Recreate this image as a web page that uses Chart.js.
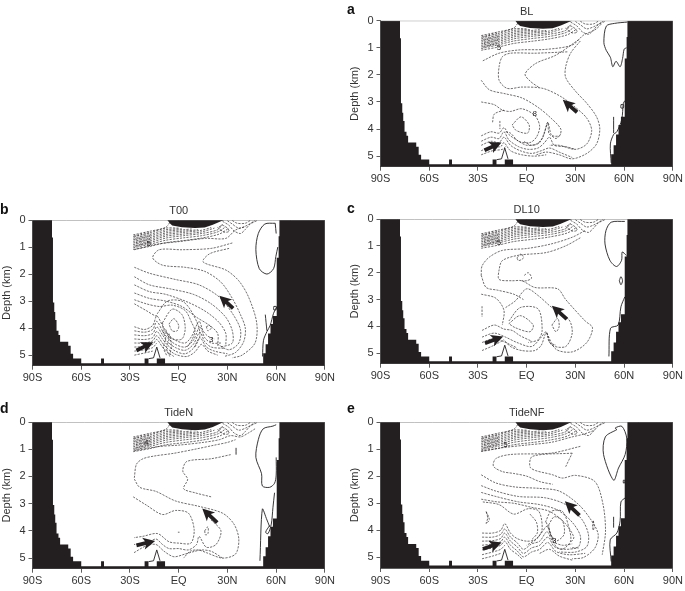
<!DOCTYPE html>
<html>
<head>
<meta charset="utf-8" />
<title>Overturning streamfunction</title>
<script src="https://cdn.jsdelivr.net/npm/chart.js@4"></script>
<style>
    html, body { margin: 0; padding: 0; background: #fff; }
    body { width: 685px; height: 591px; position: relative; overflow: hidden; }
    canvas { position: absolute; }
    .letter { position: absolute; font: bold 14px "Liberation Sans", sans-serif; color: #111; }
</style>
</head>
<body>
<script>
// axis labels
var latTicks = [-90, -60, -30, 0, 30, 60, 90];
var latLabels = ['90S', '60S', '30S', 'EQ', '30N', '60N', '90N'];
var depthTicks = [0, 1, 2, 3, 4, 5];
var panelTitles = ['BL', 'T00', 'DL10', 'TideN', 'TideNF'];
var panelLetters = ['a', 'b', 'c', 'd', 'e'];

// ocean floor outline, lat / depth (km)
var floorOutline = [[-90,0],[-78,0],[-78,0.65],[-77.4,0.65],[-77.4,3.05],[-76.6,3.05],[-76.6,3.4],[-76,3.4],[-76,3.7],[-75.2,3.7],[-75.2,4.1],[-74,4.1],[-74,4.25],[-73,4.25],[-73,4.5],[-68,4.5],[-68,4.65],[-66.5,4.65],[-66.5,4.95],[-65,4.95],[-65,5.12],[-60,5.12],[-60,5.3],
    [-47.8,5.3],[-47.8,5.12],[-46,5.12],[-46,5.3],[-21,5.3],[-21,5.12],[-18.6,5.12],[-18.6,5.3],[-13.5,5.3],[-13.5,5.12],[-8.4,5.12],[-8.4,5.3],
    [52,5.3],[52,4.93],[53.5,4.93],[53.5,4.6],[55,4.6],[55,4.2],[56.5,4.2],[56.5,3.85],[58,3.85],[58,3.55],[60,3.55],[60,3.4],[60.5,3.4],[60.5,1.4],[61.5,1.4],[61.5,0.6],[62,0.6],[62,0],[90,0],[90,5.39],[-90,5.39]];
var ridgeLine = [[-18.5,5.13],[-15.5,5.1],[-13.5,4.7],[-11.5,5.1]];
var surfaceBlob = [[-7,0],[-5.5,0.12],[-4,0.2],[2,0.27],[10,0.3],[16,0.28],[21,0.18],[26,0.05],[28,0]];

// dense upper ocean contours, about the same in all panels
var upperOcean = [
    [[-28,0.55],[-18,0.42],[-8,0.27],[-5,0.05]],
    [[-28,0.61],[-18,0.48],[-8,0.3],[0,0.3]],
    [[-28,0.67],[-18,0.54],[-8,0.36],[2,0.33]],
    [[-28,0.73],[-18,0.6],[-8,0.42],[3,0.36],[8,0.33]],
    [[-28,0.79],[-18,0.66],[-8,0.48],[3,0.41],[12,0.36]],
    [[-28,0.85],[-18,0.72],[-8,0.54],[3,0.46],[14,0.38],[20,0.28]],
    [[-28,0.91],[-18,0.78],[-8,0.6],[3,0.52],[14,0.44],[22,0.3]],
    [[-28,0.97],[-18,0.84],[-8,0.67],[3,0.58],[14,0.5],[24,0.36],[27,0.15]],
    [[-28,1.03],[-18,0.9],[-8,0.75],[3,0.66],[14,0.58],[24,0.44],[29,0.25]],
    [[-28,1.09],[-18,0.98],[-8,0.84],[3,0.76],[14,0.67],[25,0.52],[31,0.3]],
    [[27,0.05],[31,0.2],[34,0.4],[38,0.5],[41,0.35],[44,0.15],[48,0.03]],
    [[30,0.03],[33,0.15],[37,0.3],[42,0.2],[47,0.02]],
    [[33,0.02],[36,0.12],[41,0.12],[44,0.02]],
    [[24,0.28],[28,0.45],[31,0.42],[30,0.3],[27,0.2],[24,0.28]],
    [[-27,0.55],[-26,0.8],[-26.5,1.05]],
    [[-25,0.52],[-24,0.75],[-24.5,1.02]],
    [[-23,0.49],[-22,0.7],[-22.5,0.98]],
    [[-21,0.46],[-20,0.65],[-20.5,0.95]],
    [[-19,0.43],[-18,0.6],[-18.5,0.92]]
];

var contoursBL = [
    [[-27,1.48],[-17,1.2],[-4.7,1.08],[11.6,1.06],[28,0.9],[35,0.53],[42,0.34],[46,0.12]],
    [[33,0.75],[27,1.2],[24,1.7],[24,2.1],[30,2.6],[37,3.05],[43,3.55],[45,4.0],[43,4.55],[37,4.9],[28,5.1],[20,4.95],[12,4.85],[6,4.95]],
    [[25,1.15],[5,1.2],[-10,1.2],[-15,1.33],[-17,1.7],[-17,2.2],[-12,2.5],[-3,2.45],[10,2.5],[21,2.8],[30,3.2],[37,3.6],[40,4.05],[37,4.55],[30,4.75],[20,4.6],[14,4.6]],
    [[32,0.7],[18,1.27],[5.5,1.58],[-1,1.97],[2.5,2.25],[8,2.48]],
    [[-28,2.2],[-23,2.55],[-13,2.7],[-3,2.85],[7,3.2],[15,3.6],[21,4.0],[20,4.25],[14,4.2],[13,3.75],[11,4.1],[8,4.5],[3,4.6],[-2,4.45]],
    [[-28,3.0],[-20,3.1],[-15,3.3],[-10,3.35],[-3,3.25],[5,3.5],[8,3.9],[6,4.3],[2,4.5],[-5,4.45],[-10,4.15],[-13,4.1]],
    [[-9,3.85],[-3.5,3.55],[1.5,3.85],[0.5,4.15],[-6.5,4.05],[-9,3.85]],
    [[-21,3.75],[-20,3.45],[-14,3.3]],
    [[-16.5,3.7],[-16.5,4.0]],
    [[-28,4.25],[-22,4.1],[-17,4.15],[-14,3.95],[-11,4.2],[-5,4.45],[0,4.6],[6,4.55],[10,4.3],[13,3.75],[15,4.2],[18,4.35],[21,4.2]],
    [[-28,4.45],[-22,4.3],[-17,4.35],[-14,4.1],[-11,4.4],[-5,4.65],[1,4.75],[7,4.7],[11,4.5],[14,4.3],[17,4.6],[24,4.65],[30,4.75]],
    [[-28,4.6],[-22,4.45],[-17,4.5],[-14,4.3],[-10,4.6],[-4,4.8],[3,4.9],[9,4.8],[14,4.7],[20,4.85],[28,5.05]],
    [[-28,4.8],[-22,4.65],[-16,4.65],[-14,4.5],[-10,4.8],[-3,4.95],[5,5.0],[12,4.95]],
    [[-28,4.95],[-21,4.8],[-15,4.75],[-13,4.65]]
];
var solidBL = [
    [[62,0.05],[54,0.1],[49,0.2],[47.5,0.8],[49,1.1],[51.5,1.35],[53,1.7],[55,1.5],[57.5,1.7],[59,1.4],[60,1.05],[61.5,1.0]],
    [[52,5.25],[51.5,4.55],[53.5,4.2],[55.5,4.1],[58.5,3.65],[59.5,3.05],[60.5,2.95]],
    [[53.5,3.55],[53.5,4.15]],
    [[58,3.1],[59.5,3.1],[59.5,3.22],[58,3.22],[58,3.1]]
];

var contoursT00 = [
    [[-27.3,1.1],[-14,0.9],[0,0.8],[16.5,0.68],[29,0.68],[35,0.37],[41,0.25]],
    [[33,0.85],[20,1.05],[2,1.1],[-12,1.1],[-16,1.4],[-10,1.67],[4,1.75],[16,1.9],[26,2.3],[33,2.9],[38,3.5],[41,4.0],[40,4.5],[35,4.9],[28,5.05]],
    [[31,1.05],[19,1.25],[15,1.55],[29,1.85],[37,2.25],[43,2.85],[48,3.8],[47,4.55],[39,5.0],[33,5.1]],
    [[-27.3,1.75],[-18,1.97],[-2,2.2],[12.5,2.4],[25,2.85],[33,3.45],[38,4.05],[37,4.55],[31,4.8],[24,4.6]],
    [[-27.3,2.1],[-18,2.4],[-5,2.55],[9,2.75],[20,3.1],[29,3.6],[33,4.1],[33,4.55],[26,4.7]],
    [[-27.3,2.4],[-18,2.65],[-8,2.75],[6,3.05],[17,3.4],[25,3.8],[29,4.2],[29,4.6]],
    [[-27.3,2.7],[-18,2.9],[-8,3.0],[2,3.2],[11,3.6],[19,3.9],[24,4.2],[24,4.65]],
    [[-27.3,2.95],[-20,3.1],[-12,3.2],[-4,3.15],[4,3.35],[8,3.8],[10,4.1],[8,4.45],[5,4.7]],
    [[-27.3,3.1],[-20,3.35],[-14,3.55],[-13,3.45],[-7,3.0],[2,3.0],[7,3.3],[12,3.9],[13,4.3],[10,4.7]],
    [[-6,3.85],[-3,3.65],[0,3.9],[-1,4.1],[-4,4.1],[-6,3.85]],
    [[-10,3.8],[-4,3.3],[2,3.5],[4,4.0],[2,4.4],[-4,4.4],[-9,4.1],[-10,3.8]],
    [[17,3.95],[19,3.9],[20,4],[18,4.1],[17,3.95]],
    [[-27.3,3.95],[-21,4.05],[-16,3.9],[-13.5,3.55],[-10,3.9],[-7,4.2],[-2,4.45],[4,4.55],[8,4.3],[12.5,3.75],[15,4.1],[18,4.3],[22,4.4]],
    [[-27.3,4.1],[-21,4.15],[-16,4.05],[-13.5,3.75],[-10,4.1],[-7,4.35],[-2,4.6],[4,4.7],[9,4.45],[13,3.95],[16,4.35],[20,4.55],[26,4.55]],
    [[-27.3,4.25],[-21,4.28],[-16,4.2],[-13.5,3.95],[-10,4.25],[-7,4.5],[-2,4.72],[4,4.82],[9,4.6],[13,4.15],[16,4.5],[20,4.7],[28,4.75]],
    [[-27.3,4.4],[-21,4.42],[-16,4.35],[-13.5,4.12],[-10,4.4],[-7,4.62],[-2,4.85],[4,4.95],[9,4.75],[13,4.35],[17,4.7],[22,4.85],[30,4.95]],
    [[-27.3,4.55],[-21,4.55],[-16,4.47],[-13.5,4.28],[-10,4.55],[-7,4.75],[-2,4.97],[5,5.05],[10,4.88],[14,4.6],[18,4.85],[24,5.0]],
    [[-27.3,4.7],[-21,4.68],[-16,4.6],[-13.5,4.42],[-10,4.7],[-7,4.88],[-3,5.05]],
    [[-27.3,4.85],[-21,4.8],[-16,4.72],[-13.5,4.55]],
    [[-27.3,5.0],[-21,4.92],[-16,4.85]],
    [[-10,4.1],[-8,4.4],[-9.5,4.7],[-7.5,5.0]],
    [[-8,4.05],[-6,4.4],[-7.5,4.75],[-5.5,5.05]],
    [[-6,4.2],[-4.5,4.6],[-5.5,5.0]]
];
var solidT00 = [
    [[59.4,0.12],[53,0.15],[49,0.5],[47.5,1.1],[49.6,1.8],[54.3,2.0],[58.4,1.8],[59.8,1.35],[61,1.0]],
    [[59.4,0.12],[60,0.5]],
    [[51.6,5.05],[52.2,4.45],[54.3,4.13],[56.3,3.9],[58.4,3.45],[60.4,3.2]],
    [[53.3,3.5],[54.3,4.1]],
    [[58.5,3.2],[60,3.2],[60,3.32],[58.5,3.32],[58.5,3.2]]
];

var contoursDL10 = [
    [[-28,2.1],[-27.5,1.75],[-23,1.42],[-15,1.17],[0,1.1],[15,0.93],[28,0.68],[36,0.43]],
    [[-28,2.1],[-25,2.55],[-18,2.65],[-8,2.8],[-2,3.0]],
    [[33,0.7],[24,1.0],[12,1.25],[-5,1.35],[-15,1.55],[-17,1.9],[-17,2.25],[-9,2.3],[-3,2.3],[5,2.55],[19,2.6],[24,3.0],[36,3.8],[40.5,4.05],[37,4.6],[28,4.95],[18,4.85],[12,4.2]],
    [[-1.5,2.1],[1,2.0],[3,2.2],[0,2.3],[-3,2.3]],
    [[-6,1.45],[-3.5,1.3],[-2,1.45],[-5,1.55],[-6,1.45]],
    [[-28,2.8],[-19,2.95],[-14,3.4],[-15,3.95]],
    [[-27.5,3.25],[-27.5,3.65]],
    [[-27.5,4.15],[-20,3.95],[-14,4.1],[-9,4.15],[-4,4.35],[3,4.55]],
    [[-27.5,4.4],[-20,4.25],[-13,4.4],[-6,4.6],[3,4.75],[9,4.4],[12,4.2],[14,4.6],[18,4.7]],
    [[-27.5,4.6],[-20,4.45],[-13,4.6],[-6,4.8]],
    [[-27.5,4.9],[-20,4.7],[-14,4.5]],
    [[-11,3.8],[-4,3.3],[7,3.35],[9.5,4.15],[7,4.5],[1,4.6]],
    [[-11,3.9],[-4,3.6],[4,3.95],[2,4.2],[-7,4.05],[-11,3.9]],
    [[15.5,3.95],[19,3.7],[20,4.0],[18,4.2],[15.5,3.95]],
    [[-13,3.3],[-7,3.05],[0,2.6],[7,2.85],[15.5,3.3],[26,3.75],[28,4.25],[24,4.75],[15.5,4.7],[12,4.25],[9,4.7],[5,4.9],[-3,4.9],[-10,4.75],[-14,4.5]]
];
var solidDL10 = [
    [[60.4,0.09],[52,0.12],[48.8,0.43],[48.2,0.93],[51.2,1.54],[55.3,1.77],[58.4,1.54],[58.8,1.23],[61.4,1.36]],
    [[57,2.3],[58,2.15],[59,2.3],[58,2.45],[57,2.3]],
    [[50.6,5.12],[51.6,4.07],[56.3,3.95],[58,3.27],[60.4,2.9]]
];

var contoursTideN = [
    [[-27.3,1.05],[-12,0.9],[0,0.85],[15,0.75],[25,0.65],[32,0.5],[38,0.55],[43,0.4],[47,0.25]],
    [[-27.3,2.05],[-26,1.55],[-22,1.35],[-15,1.25],[-3,1.15],[10,1.0],[22,0.85],[30,0.75],[35,0.65]],
    [[32,1.2],[20,1.35],[5,1.45],[2.5,1.8],[5.5,2.1],[3,2.45],[10,2.6],[20,2.75]],
    [[-27.3,2.1],[-24,2.4],[-14,2.55],[-2,2.9],[12.5,3.1],[27,3.35],[34,3.75],[37,4.3],[35,4.85],[27,5.0],[17,4.8],[12,4.7],[7,4.75],[3,5.0]],
    [[-28,2.75],[-20,3.05],[-10,3.4],[-2,3.25],[6,3.35],[9.5,3.95],[7.5,4.45],[0,4.45],[-6,4.4],[-13,4.1],[-22,4.2],[-27.5,4.25]],
    [[20,3.6],[26,4.0],[23,4.5],[17,4.6],[12.5,4.2],[11,4.5],[6,4.7],[0,4.65],[-6,4.65],[-10,4.5],[-14,4.3],[-20,4.45],[-27.5,4.5]],
    [[-27.5,4.8],[-20,4.55],[-14,4.5],[-9,4.75],[-3,4.95],[4,4.85],[10,4.75],[14,4.7],[20,4.75],[27,5.0]],
    [[16,4.0],[18,3.85],[18,4.1],[16.5,4.15],[16,4]],
    [[-0.5,4.05],[0.5,4.05]]
];
var solidTideN = [
    [[60,0.1],[58,0.15],[52,0.25],[49,0.65],[47.5,1.3],[51,1.9],[51.5,2.35],[56,2.4],[59,2.25],[60,1.95],[60,1.3]],
    [[50,5.1],[51.5,3.2],[54,3.55],[56,3.85]],
    [[59,2.6],[58,3.15],[57,3.75],[55,4.1],[53.5,4.05],[56,3.8]],
    [[35.3,0.95],[35.3,1.2]]
];

var contoursTideNF = [
    [[-28,1.07],[-15,0.95],[0,0.85],[15,0.75],[28,0.55],[35,0.45],[42,0.3]],
    [[33,0.9],[15,1.15],[-10,1.2],[-19,1.35],[-20.5,1.63],[-15,1.83],[-8,1.9],[0,2.0],[8,2.2],[16,2.3]],
    [[28,1.15],[3.5,1.27],[2.5,1.7],[16,1.95],[22,2.07],[30,1.97],[42,2.2],[47,3.05],[48.5,4.05],[46.5,4.9]],
    [[24,1.65],[28,1.15]],
    [[-28,1.95],[-19,2.25],[-7,2.4],[7.5,2.45],[20,2.55],[32,3.05],[40,3.65],[44,4.15],[42,4.65],[35,5.0],[28,5.05]],
    [[-28,2.35],[-19,2.55],[-5,2.75],[11.5,2.8],[24,3.05],[34,3.6],[38,4.15],[37,4.6],[30,4.8],[20,4.8]],
    [[-28,2.6],[-19,2.75],[-5,2.95],[8,3.05],[19,3.25],[28,3.7],[33,4.2],[32,4.6],[27,4.65]],
    [[-28,2.85],[-18,2.95],[-8,3.0],[3,3.15],[14,3.3],[23,3.7],[29,4.25],[27,4.45]],
    [[-27,2.95],[-17,3.05],[-8,3.4],[1,3.2],[7.5,3.3],[9.5,3.95],[6.5,4.3],[0,4.55]],
    [[2,3.4],[6,3.7],[6.5,4.1],[3,4.35]],
    [[13.5,3.8],[17,3.5],[22,3.65],[23,4.15],[18,4.4],[15,4.2],[13.5,3.8]],
    [[11.5,3.7],[15,3.3],[22,3.3],[26,3.9],[27,4.4],[22,4.7],[18,4.6],[14,4.0],[12,3.7]],
    [[-25,3.3],[-23,3.6],[-25,3.75],[-24,3.55],[-25,3.3]],
    [[41,3.65],[41.5,3.85],[41,4.0],[40.5,3.85],[41,3.65]],
    [[-27.5,4.1],[-21,4.1],[-16,4.0],[-13.5,3.75],[-10,4.1],[-6,4.3],[0,4.4],[5,4.35],[9,4.1],[12.5,3.85],[15,4.2],[18,4.35]],
    [[-27.5,4.25],[-21,4.25],[-16,4.15],[-13.5,3.95],[-10,4.25],[-6,4.45],[-2,4.7],[3,4.5],[8,4.4],[12.5,4.05],[16,4.4],[22,4.55],[28,4.5]],
    [[-27.5,4.4],[-21,4.38],[-16,4.3],[-13.5,4.1],[-10,4.4],[-6,4.6],[-2,4.85],[3,4.65],[8,4.55],[13,4.25],[17,4.6],[24,4.7],[32,4.65]],
    [[-27.5,4.55],[-21,4.5],[-16,4.42],[-13.5,4.25],[-10,4.55],[-6,4.75],[-2,4.98],[3,4.8],[8,4.7],[13,4.45],[18,4.78],[26,4.9],[36,4.85]],
    [[-27.5,4.72],[-21,4.65],[-16,4.55],[-13.5,4.4],[-10,4.7],[-6,4.88],[-3,5.05]],
    [[-27.5,4.9],[-21,4.8],[-16,4.7],[-13.5,4.55]],
    [[-27.5,5.05],[-21,4.95],[-16,4.85]],
    [[8,4.85],[14,4.7],[20,4.95],[28,5.1]]
];
var solidTideNF = [
    [[55.5,0.28],[48.4,0.55],[47.3,1.2],[53.5,2.15],[56.5,1.7],[60.6,1.2],[61.6,0.6],[58.6,0.16],[54.5,0.22],[55.5,0.28]],
    [[52,5.15],[51.4,4.35],[55.5,4.1],[57.5,3.65],[58,2.95],[60.6,2.8]],
    [[53.5,3.5],[53.5,3.9]],
    [[59.5,2.15],[60.3,2.15],[60.3,2.25],[59.5,2.25],[59.5,2.15]]
];

// flow arrows: tail lat, tail depth, head lat, head depth
var arrowsBL = [[31,3.38,22.2,2.92],[-26,4.78,-15.5,4.5]];
var arrowsT00 = [[33.5,3.27,25,2.8],[-26,4.83,-15.7,4.52]];
var arrowsDL10 = [[24.7,3.73,15.5,3.23],[-25.7,4.63,-14.5,4.38]];
var arrowsTideN = [[23.7,3.7,14.5,3.18],[-26,4.53,-14.5,4.37]];
var arrowsTideNF = [[32.5,3.45,23.5,2.93],[-27,4.69,-15.5,4.45]];

// contour labels: text, lat, depth
var labelsBL = [['5',-17,1.0],['8',5,3.45]];
var labelsT00 = [['5',-18.5,0.87],['3',20,4.45]];
var labelsDL10 = [['5',-17,0.9]];
var labelsTideN = [['4',-20,0.78]];
var labelsTideNF = [['5',-13,0.85],['3',17,4.4]];

var panelContours = [contoursBL, contoursT00, contoursDL10, contoursTideN, contoursTideNF];
var panelSolids = [solidBL, solidT00, solidDL10, solidTideN, solidTideNF];
var panelArrows = [arrowsBL, arrowsT00, arrowsDL10, arrowsTideN, arrowsTideNF];
var panelLabels = [labelsBL, labelsT00, labelsDL10, labelsTideN, labelsTideNF];

// page layout of the five charts
var canvasLeft = [348.2, 0, 348.2, 0, 348.2];
var canvasTop = [0, 200, 200, 398, 398];
var canvasHeight = [195, 195, 195, 193, 193];
var plotTop = [20.7, 20, 19, 24, 24];
var axisHeight = [28.3, 29.3, 31.3, 22.3, 23];
var letterLeft = [347, 0, 347, 0, 347];
var letterTop = [1, 201, 200, 400, 400];

var ink = '#231f20';
var fontName = '"Liberation Sans", Arial, sans-serif';

// arrows and small contour numbers go on through the chart's scales
var overlayPlugin = {
    id: 'overlay',
    afterDatasetsDraw: function(chart, args, opts) {
        var ctx = chart.ctx;
        var xs = chart.scales.x, ys = chart.scales.y;
        ctx.save();
        ctx.fillStyle = ink;
        ctx.strokeStyle = ink;
        opts.arrows.forEach(function(a) {
            var x0 = xs.getPixelForValue(a[0]), y0 = ys.getPixelForValue(a[1]);
            var x1 = xs.getPixelForValue(a[2]), y1 = ys.getPixelForValue(a[3]);
            var ang = Math.atan2(y1 - y0, x1 - x0);
            var len = Math.hypot(x1 - x0, y1 - y0);
            ctx.save();
            ctx.translate(x0, y0);
            ctx.rotate(ang);
            ctx.beginPath();
            ctx.moveTo(0, -1.9);
            ctx.lineTo(len - 10, -1.9);
            ctx.lineTo(len - 12, -6);
            ctx.lineTo(len, 0);
            ctx.lineTo(len - 12, 6);
            ctx.lineTo(len - 10, 1.9);
            ctx.lineTo(0, 1.9);
            ctx.closePath();
            ctx.fill();
            ctx.restore();
        });
        ctx.font = '8px ' + fontName;
        ctx.textAlign = 'center';
        ctx.textBaseline = 'middle';
        opts.labels.forEach(function(l) {
            ctx.fillText(l[0], xs.getPixelForValue(l[1]), ys.getPixelForValue(l[2]));
        });
        ctx.restore();
    }
};

function lineSet(points, dashed) {
    return {
        data: points,
        showLine: true,
        pointRadius: 0,
        borderColor: ink,
        borderWidth: dashed ? 0.65 : 0.9,
        borderDash: dashed ? [2.2, 1.2] : [],
        tension: 0.3,
        fill: false
    };
}

function shapeSet(points) {
    return {
        data: points,
        showLine: true,
        pointRadius: 0,
        borderWidth: 0,
        backgroundColor: ink,
        tension: 0,
        fill: 'shape'
    };
}

function makePanel(i) {
    var canvas = document.createElement('canvas');
    canvas.width = 337;
    canvas.height = canvasHeight[i];
    canvas.style.left = canvasLeft[i] + 'px';
    canvas.style.top = canvasTop[i] + 'px';
    document.body.appendChild(canvas);

    var letter = document.createElement('div');
    letter.className = 'letter';
    letter.textContent = panelLetters[i];
    letter.style.left = letterLeft[i] + 'px';
    letter.style.top = letterTop[i] + 'px';
    document.body.appendChild(letter);

    var sets = [];
    panelSolids[i].forEach(function(c) { sets.push(lineSet(c, false)); });
    panelContours[i].forEach(function(c) { sets.push(lineSet(c, true)); });
    upperOcean.forEach(function(c) { sets.push(lineSet(c, true)); });
    var surf = lineSet([[-90,0],[90,0]], false);
    surf.borderColor = '#777';
    sets.push(surf);
    sets.push(lineSet(ridgeLine, false));
    sets[sets.length - 1].tension = 0;
    sets.push(shapeSet(surfaceBlob));
    sets.push(shapeSet(floorOutline));

    new Chart(canvas, {
        type: 'scatter',
        data: { datasets: sets },
        plugins: [overlayPlugin],
        options: {
            responsive: false,
            animation: false,
            devicePixelRatio: 1,
            layout: { padding: { right: 10.5 } },
            scales: {
                x: {
                    type: 'linear',
                    min: -90,
                    max: 90,
                    afterBuildTicks: function(s) { s.ticks = latTicks.map(function(v) { return { value: v }; }); },
                    afterFit: function(s) { s.height = axisHeight[i]; },
                    grid: { drawOnChartArea: false, tickLength: 4, color: '#333', tickWidth: 0.8 },
                    border: { color: '#333', width: 0.8 },
                    ticks: {
                        color: '#333',
                        font: { family: fontName, size: 11 },
                        padding: 2,
                        maxRotation: 0,
                        autoSkip: false,
                        callback: function(v) { return latLabels[latTicks.indexOf(v)]; }
                    }
                },
                y: {
                    type: 'linear',
                    reverse: true,
                    min: 0,
                    max: 5.39,
                    afterBuildTicks: function(s) { s.ticks = depthTicks.map(function(v) { return { value: v }; }); },
                    afterFit: function(s) { s.width = 32.5; },
                    grid: { drawOnChartArea: false, tickLength: 4, color: '#333', tickWidth: 0.8 },
                    border: { color: '#333', width: 0.8 },
                    title: { display: true, text: 'Depth (km)', color: '#333', font: { family: fontName, size: 11 }, padding: 0 },
                    ticks: { color: '#333', font: { family: fontName, size: 11 }, padding: 3, autoSkip: false }
                }
            },
            plugins: {
                legend: { display: false },
                tooltip: { enabled: false },
                title: {
                    display: true,
                    text: panelTitles[i],
                    color: '#333',
                    fullSize: false,
                    font: { family: fontName, size: 11, weight: 'normal' },
                    padding: { top: plotTop[i] - 13.2 - 2.5, bottom: 2.5 }
                },
                overlay: { arrows: panelArrows[i], labels: panelLabels[i] }
            }
        }
    });
}

for (var i = 0; i < panelTitles.length; i++) {
    makePanel(i);
}
</script>
</body>
</html>
